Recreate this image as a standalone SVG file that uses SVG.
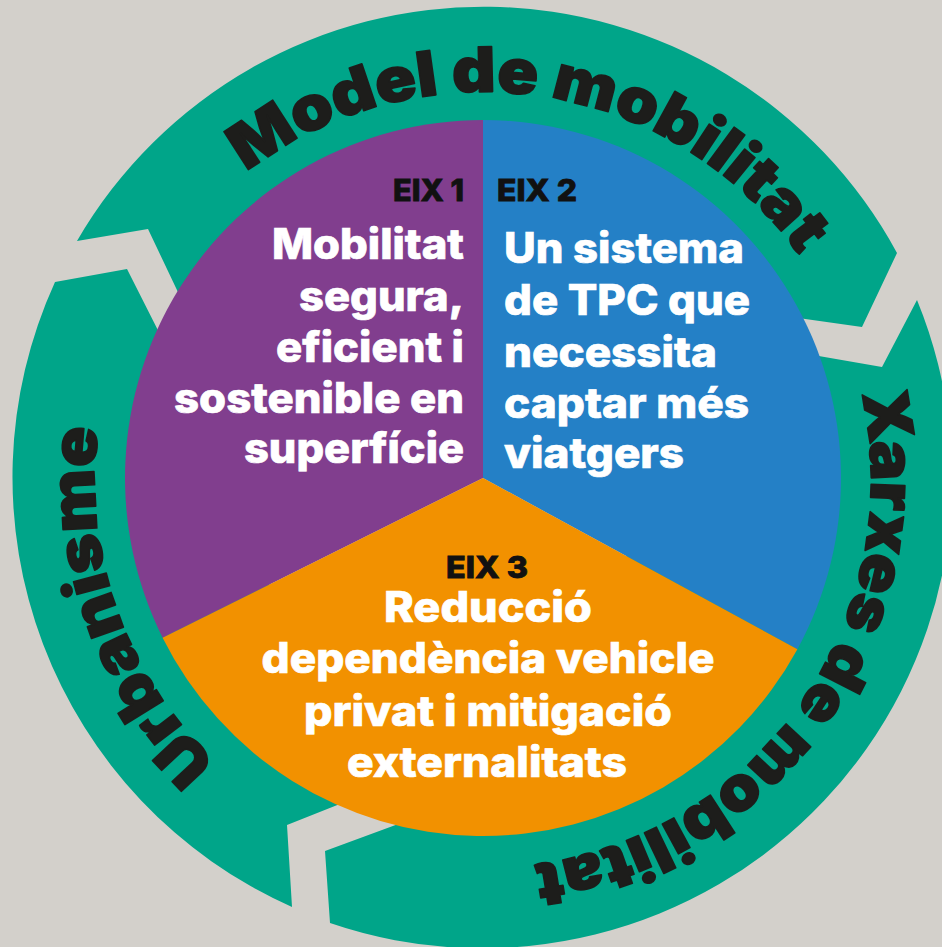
<svg xmlns="http://www.w3.org/2000/svg" width="942" height="947" viewBox="0 0 942 947">
<defs>
<style>
.arrow{fill:#00A589}
.rt{font-family:Inter,Roboto,"Liberation Sans",sans-serif;font-weight:900;font-size:62px;fill:#1d1d1b;stroke:#1d1d1b;stroke-width:1.6px;stroke-linejoin:round}
.lbl{font-family:Inter,Roboto,"Liberation Sans",sans-serif;font-weight:800;font-size:30px;fill:#111;stroke:#111;stroke-width:0.8px}
.t{font-family:Inter,Roboto,"Liberation Sans",sans-serif;font-weight:800;font-size:42px;fill:#fff;stroke:#fff;stroke-width:0.7px}
</style>
<path id="pModel" d="M147,286 A388,388 0 0 1 819,286" fill="none"/>
<path id="pXarxes" d="M819,286 A388,388 0 0 1 415.6,862.1" fill="none"/>
<path id="pUrb" d="M350.3,844.6 A388,388 0 0 1 118.4,347.3" fill="none"/>
</defs>
<rect width="942" height="947" fill="#D3D0CB"/>
<g id="connectors">
<path class="arrow" d="M292,907 A470,470 0 0 1 55,282 L127,269 L175,364 L360,796 L287,825 Z"/>
<path class="arrow" d="M77,241 A470,470 0 0 1 897,253 L862,327 L770,314 L195,328 L148,229 Z"/>
<path class="arrow" d="M917,300 A470,470 0 0 1 330,923 L325,851 L420,816 L790,351 L882,367 Z"/>
</g>
<g id="ring-model"><text class="rt"><textPath href="#pModel" startOffset="152" textLength="624" lengthAdjust="spacingAndGlyphs">Model de mobilitat</textPath></text></g>
<g id="ring-xarxes"><text class="rt"><textPath href="#pXarxes" startOffset="116" textLength="646" lengthAdjust="spacingAndGlyphs">Xarxes de mobilitat</textPath></text></g>
<g id="ring-urbanisme"><text class="rt"><textPath href="#pUrb" startOffset="158" textLength="368" lengthAdjust="spacingAndGlyphs">Urbanisme</textPath></text></g>
<g id="eix1">
<path fill="#813E8E" d="M483,478 L483,120 A358,358 0 0 0 162.6,637.7 Z"/>
<text class="lbl" x="464" y="201" text-anchor="end" textLength="71" lengthAdjust="spacingAndGlyphs">EIX 1</text>
<text class="t" x="464" y="259" text-anchor="end" textLength="192" lengthAdjust="spacingAndGlyphs">Mobilitat</text>
<text class="t" x="464" y="311" text-anchor="end" textLength="165" lengthAdjust="spacingAndGlyphs">segura,</text>
<text class="t" x="464" y="362" text-anchor="end" textLength="188" lengthAdjust="spacingAndGlyphs">eficient i</text>
<text class="t" x="464" y="413" text-anchor="end" textLength="290" lengthAdjust="spacingAndGlyphs">sostenible en</text>
<text class="t" x="464" y="463" text-anchor="end" textLength="220" lengthAdjust="spacingAndGlyphs">superfície</text>
</g>
<g id="eix2">
<path fill="#2480C6" d="M483,478 L483,120 A358,358 0 0 1 797.4,649.2 Z"/>
<text class="lbl" x="497" y="201" textLength="80" lengthAdjust="spacingAndGlyphs">EIX 2</text>
<text class="t" x="504" y="263" textLength="240" lengthAdjust="spacingAndGlyphs">Un sistema</text>
<text class="t" x="504" y="315" textLength="246" lengthAdjust="spacingAndGlyphs">de TPC que</text>
<text class="t" x="504" y="367" textLength="213" lengthAdjust="spacingAndGlyphs">necessita</text>
<text class="t" x="504" y="418" textLength="245" lengthAdjust="spacingAndGlyphs">captar més</text>
<text class="t" x="504" y="468" textLength="180" lengthAdjust="spacingAndGlyphs">viatgers</text>
</g>
<g id="eix3">
<path fill="#F29100" d="M483,478 L797.4,649.2 A358,358 0 0 1 162.6,637.7 Z"/>
<text class="lbl" x="487" y="578" text-anchor="middle" textLength="82" lengthAdjust="spacingAndGlyphs">EIX 3</text>
<text class="t" x="488" y="622" text-anchor="middle" textLength="208" lengthAdjust="spacingAndGlyphs">Reducció</text>
<text class="t" x="488" y="673" text-anchor="middle" textLength="453" lengthAdjust="spacingAndGlyphs">dependència vehicle</text>
<text class="t" x="488" y="726" text-anchor="middle" textLength="368" lengthAdjust="spacingAndGlyphs">privat i mitigació</text>
<text class="t" x="487" y="777" text-anchor="middle" textLength="280" lengthAdjust="spacingAndGlyphs">externalitats</text>
</g>
</svg>
